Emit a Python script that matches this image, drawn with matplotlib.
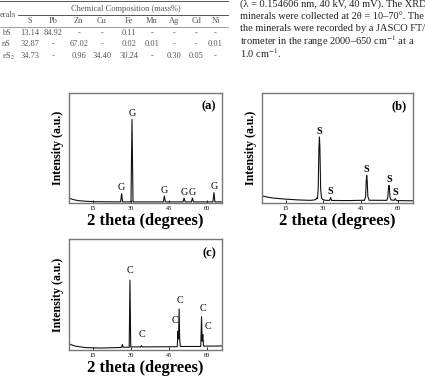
import numpy as np
import matplotlib
matplotlib.use("Agg")
import matplotlib.pyplot as plt

plt.rcParams['font.family'] = ['Liberation Serif', 'DejaVu Serif']
plt.rcParams['mathtext.fontset'] = 'stix'

# ---- table (top left, cropped page) ----
tab_cols = ["S", "Pb", "Zn", "Cu", "Fe", "Mn", "Ag", "Cd", "Ni"]
tab_rows = ["bS", "nS", "eS$_2$"]
tab_vals = [
    ["13.14", "84.92", "-", "-", "0.11", "-", "-", "-", "-"],
    ["32.87", "-", "67.02", "-", "0.02", "0.01", "-", "-", "0.01"],
    ["34.73", "-", "0.96", "34.40", "30.24", "-", "0.30", "0.05", "-"],
]

# ---- body text (top right) ----
body_lines = [
    "(\u03bb = 0.154606 nm, 40 kV, 40 mV). The XRD",
    "minerals were collected at 2\u03b8 = 10\u201370\u00b0. The F",
    "the minerals were recorded by a JASCO FT/",
    "trometer in the range 2000\u2013650 cm$^{-1}$ at a",
    "1.0 cm$^{-1}$.",
]

# ---- XRD patterns, points (2theta, intensity) ----
a_tt = [5.5, 7, 9, 12, 16, 20, 25.9, 26.3, 26.7, 30.0, 30.4, 30.8, 42.8, 43.2,
        43.6, 50.6, 51.0, 51.4, 53.9, 54.3, 54.7, 62.4, 62.8, 63.2, 66]
a_int = [0.045, 0.032, 0.022, 0.016, 0.012, 0.011, 0.010, 0.085, 0.010, 0.010,
         0.76, 0.010, 0.010, 0.065, 0.010, 0.010, 0.045, 0.010, 0.010, 0.045,
         0.010, 0.010, 0.095, 0.010, 0.010]
a_lab_x = [26.3, 30.4, 43.2, 51.0, 54.3, 62.8]
a_lab_y = [0.085, 0.76, 0.065, 0.045, 0.045, 0.095]

b_tt = [5.5, 8, 10, 15, 20, 25, 27.0, 27.4, 27.7, 28.0, 28.3, 28.5, 28.7, 29.0,
        29.4, 30.0, 31.0, 32.6, 33.0, 33.4, 40, 46.6, 47.0, 47.25, 47.45, 47.65,
        47.9, 48.4, 55.5, 55.9, 56.15, 56.35, 56.55, 56.8, 57.2, 58.4, 58.9,
        59.3, 66]
b_int = [0.065, 0.052, 0.045, 0.035, 0.028, 0.024, 0.030, 0.045, 0.040, 0.12,
         0.50, 0.60, 0.50, 0.12, 0.040, 0.030, 0.024, 0.024, 0.050, 0.023,
         0.022, 0.025, 0.060, 0.20, 0.25, 0.20, 0.060, 0.025, 0.024, 0.050,
         0.13, 0.16, 0.13, 0.050, 0.028, 0.024, 0.040, 0.022, 0.020]
b_lab_x = [28.5, 33.0, 47.45, 56.35, 59.0]
b_lab_y = [0.60, 0.05, 0.25, 0.16, 0.04]

c_tt = [5.5, 8, 12, 18, 25, 26.3, 26.6, 26.9, 29.3, 29.6, 29.9, 33.8, 34.1,
        34.4, 48.3, 48.6, 48.8, 49.05, 49.25, 49.5, 57.6, 57.9, 58.15, 58.4,
        58.7, 62, 66]
c_int = [0.055, 0.035, 0.022, 0.018, 0.022, 0.024, 0.050, 0.025, 0.025, 0.63,
         0.028, 0.028, 0.040, 0.028, 0.030, 0.17, 0.10, 0.37, 0.10, 0.032,
         0.032, 0.30, 0.08, 0.14, 0.035, 0.035, 0.037]
c_lab_x = [29.8, 34.2, 47.4, 49.4, 58.4, 60.4]
c_lab_y = [0.66, 0.085, 0.21, 0.39, 0.32, 0.16]

fig = plt.figure(figsize=(4.25, 3.76), dpi=100)

# table
gray = "#555555"
tfs = 6.0
fig.add_artist(plt.Line2D([0, 0.537], [0.997, 0.997], color=gray, lw=0.7))
fig.add_artist(plt.Line2D([0.043, 0.537], [0.96, 0.96], color=gray, lw=0.7))
fig.add_artist(plt.Line2D([0, 0.537], [0.928, 0.928], color=gray, lw=0.4))
fig.text(0.295, 0.977, "Chemical Composition (mass%)", ha="center",
         va="center", fontsize=tfs, color=gray)
fig.text(0.0, 0.96, "erals", ha="left", va="center", fontsize=tfs, color=gray)
col_x = [0.07, 0.124, 0.185, 0.24, 0.303, 0.357, 0.41, 0.462, 0.507]
row_y = [0.912, 0.882, 0.851]
for cx, name in zip(col_x, tab_cols):
    fig.text(cx, 0.943, name, ha="center", va="center", fontsize=tfs, color=gray)
for ry, rname, vals in zip(row_y, tab_rows, tab_vals):
    fig.text(0.005, ry, rname, ha="left", va="center", fontsize=tfs, color=gray)
    for cx, v in zip(col_x, vals):
        fig.text(cx, ry, v, ha="center", va="center", fontsize=tfs, color=gray)

# body text
for i, line in enumerate(body_lines):
    fig.text(0.565, 0.99 - i * 0.033, line, ha="left", va="center",
             fontsize=7.5, color="#222222")


def xrd_panel(rect, tt, inten, lab_x, lab_y, letter, tag, bold_lab):
    ax = fig.add_axes(rect)
    ax.plot(tt, inten, color="#111111", lw=0.8)
    for lx, ly in zip(lab_x, lab_y):
        ax.text(lx, ly + 0.012, letter, ha="center", va="bottom", fontsize=7.3,
                fontweight="bold" if bold_lab else "normal")
    ax.set_xlim(5.5, 66)
    ax.set_ylim(0, 1)
    ax.set_xticks([15, 30, 45, 60])
    ax.set_yticks([])
    ax.tick_params(axis="x", direction="in", length=2, width=0.6,
                   labelsize=4.5, pad=2)
    for s in ax.spines.values():
        s.set_color("#777777")
        s.set_linewidth(1.0)
    ax.set_xlabel("2 theta (degrees)", fontsize=12, fontweight="bold",
                  labelpad=1.5)
    ax.set_ylabel("Intensity (a.u.)", fontsize=8.6, fontweight="bold",
                  labelpad=3.5)
    ax.text(0.96, 0.93, tag, transform=ax.transAxes, ha="right", va="top",
            fontsize=9, fontweight="bold")
    return ax


xrd_panel([0.1624, 0.4601, 0.36, 0.2926], a_tt, a_int, a_lab_x, a_lab_y,
          "G", "(a)", False)
xrd_panel([0.6165, 0.4601, 0.3553, 0.2926], b_tt, b_int, b_lab_x, b_lab_y,
          "S", "(b)", True)
xrd_panel([0.1624, 0.0691, 0.36, 0.2952], c_tt, c_int, c_lab_x, c_lab_y,
          "C", "(c)", False)

fig.savefig("out.png", dpi=100)
